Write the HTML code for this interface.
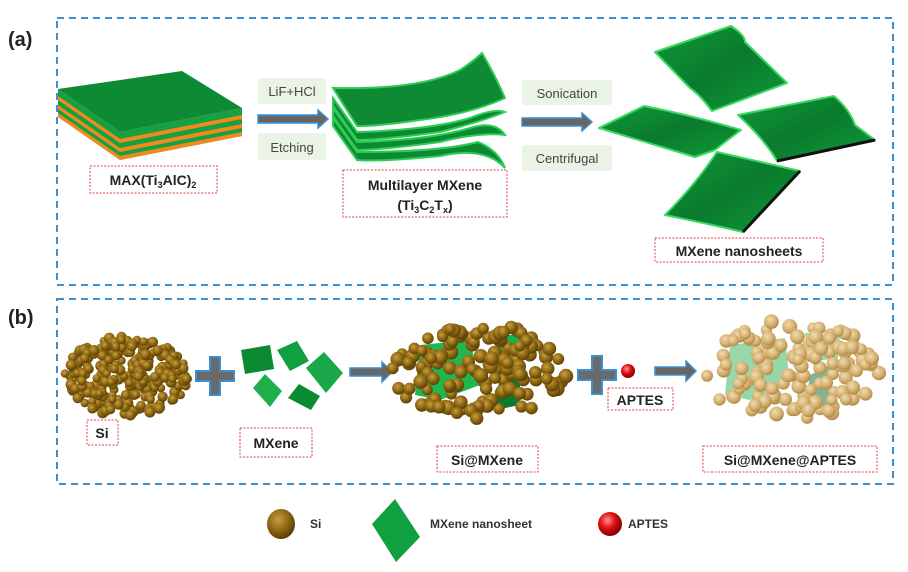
<!DOCTYPE html>
<html><head><meta charset="utf-8"><style>
html,body{margin:0;padding:0;background:#fff}
svg{display:block}
text{font-family:"Liberation Sans",sans-serif}
</style></head><body>
<svg id="s" width="908" height="572" viewBox="0 0 908 572" xmlns="http://www.w3.org/2000/svg">
<defs>
<radialGradient id="si" cx="40%" cy="35%" r="65%"><stop offset="0" stop-color="#c8a040"/><stop offset="0.6" stop-color="#8a6410"/><stop offset="1" stop-color="#5a4008"/></radialGradient>
<radialGradient id="si2" cx="40%" cy="35%" r="65%"><stop offset="0" stop-color="#f0dcae"/><stop offset="0.6" stop-color="#d6b274"/><stop offset="1" stop-color="#b08a48"/></radialGradient>
<radialGradient id="red" cx="40%" cy="35%" r="65%"><stop offset="0" stop-color="#ff9090"/><stop offset="0.5" stop-color="#dd1010"/><stop offset="1" stop-color="#800000"/></radialGradient>
<linearGradient id="sh" x1="0" y1="0" x2="1" y2="1"><stop offset="0" stop-color="#0f9a3a"/><stop offset="0.5" stop-color="#0a7a2c"/><stop offset="1" stop-color="#0f9a3a"/></linearGradient>
</defs>
<rect width="908" height="572" fill="#fff"/>
<rect x="57" y="18" width="836" height="267" fill="none" stroke="#3d8fd0" stroke-width="2" stroke-dasharray="7,5"/>
<rect x="57" y="299" width="836" height="185" fill="none" stroke="#3d8fd0" stroke-width="2" stroke-dasharray="7,5"/>
<text x="8" y="46" font-size="20" font-weight="bold" fill="#222">(a)</text>
<text x="8" y="324" font-size="20" font-weight="bold" fill="#222">(b)</text>

<g>
<polygon points="58,89 120,132 242,108 242,136 120,160 58,117" fill="#18a040"/>
<polygon points="58,96 120,139 242,115 242,119 120,143 58,100" fill="#f08a20"/>
<polygon points="58,105 120,148 242,124 242,128 120,152 58,109" fill="#f08a20"/>
<polygon points="58,113 120,156 242,132 242,136 120,160 58,117" fill="#f08a20"/>
<polygon points="58,89 182,71 242,108 120,132" fill="#0e8a34"/>
</g>
<rect x="90" y="166" width="127" height="27" fill="none" stroke="#e04040" stroke-width="1" stroke-dasharray="2,1.5"/>
<text x="153" y="185" font-size="14" font-weight="bold" text-anchor="middle" fill="#222">MAX(Ti<tspan font-size="9" dy="3">3</tspan><tspan dy="-3">AlC)</tspan><tspan font-size="9" dy="3">2</tspan></text>

<rect x="258" y="78" width="68" height="26" rx="3" fill="#eaf4e6"/>
<text x="292" y="96" font-size="13" text-anchor="middle" fill="#444">LiF+HCl</text>
<rect x="258" y="133" width="68" height="27" rx="3" fill="#eaf4e6"/>
<text x="292" y="152" font-size="13" text-anchor="middle" fill="#444">Etching</text>
<polygon points="258,115 318,115 318,110 328,119 318,128 318,123 258,123" fill="#666" stroke="#3d8fd0" stroke-width="1.5"/>

<g stroke="#2ecc55" stroke-width="2">
<path d="M333,118 L357,152 Q440,152 478,142 Q498,150 505,168 Q485,146 440,156 Q380,162 357,160 L333,126Z" fill="#0c8a32"/>
<path d="M333,108 L357,142 Q430,140 470,128 Q495,120 505,135 Q480,132 440,142 Q380,150 357,150 L333,116Z" fill="#0c8a32"/>
<path d="M333,98 L357,132 Q430,130 470,118 Q495,108 505,112 Q480,122 440,132 Q380,140 357,140 L333,106Z" fill="#0c8a32"/>
<path d="M333,88 Q420,90 460,70 Q475,60 482,53 Q495,75 505,98 Q470,114 420,120 Q380,126 357,126 Z" fill="#0e8a34"/>
</g>
<rect x="343" y="170" width="164" height="47" fill="none" stroke="#e04040" stroke-width="1" stroke-dasharray="2,1.5"/>
<text x="425" y="190" font-size="14" font-weight="bold" text-anchor="middle" fill="#222">Multilayer MXene</text>
<text x="425" y="210" font-size="14" font-weight="bold" text-anchor="middle" fill="#222">(Ti<tspan font-size="9" dy="3">3</tspan><tspan dy="-3">C</tspan><tspan font-size="9" dy="3">2</tspan><tspan dy="-3">T</tspan><tspan font-size="9" dy="3">x</tspan><tspan dy="-3">)</tspan></text>

<rect x="522" y="80" width="90" height="25" rx="3" fill="#eaf4e6"/>
<text x="567" y="98" font-size="13" text-anchor="middle" fill="#444">Sonication</text>
<rect x="522" y="145" width="90" height="26" rx="3" fill="#eaf4e6"/>
<text x="567" y="163" font-size="13" text-anchor="middle" fill="#444">Centrifugal</text>
<polygon points="522,118 582,118 582,113 592,122 582,131 582,126 522,126" fill="#666" stroke="#3d8fd0" stroke-width="1.5"/>

<g stroke="#3ad860" stroke-width="2" stroke-linejoin="round">
<path d="M655,52 L731,26 Q745,35 745,42 L787,83 L712,111 Q700,95 690,88 Z" fill="url(#sh)"/>
<path d="M599,128 L644,106 Q690,115 741,130 Q725,142 715,150 L695,157 Q645,142 599,128Z" fill="url(#sh)"/>
<path d="M738,115 L834,96 Q850,110 855,125 L875,140 L777,161 Q765,140 738,115Z" fill="url(#sh)"/>
<path d="M717,152 L800,171 L743,232 Q700,222 665,215 Q695,185 717,152Z" fill="url(#sh)"/>
</g>
<path d="M777,161 L875,140" stroke="#111" stroke-width="3"/>
<path d="M800,171 L743,232" stroke="#111" stroke-width="3"/>
<rect x="655" y="238" width="168" height="24" fill="none" stroke="#e04040" stroke-width="1" stroke-dasharray="2,1.5"/>
<text x="739" y="256" font-size="14" font-weight="bold" text-anchor="middle" fill="#222">MXene nanosheets</text>

<g id="si1"></g>
<rect x="87" y="420" width="31" height="25" fill="none" stroke="#e04040" stroke-width="1" stroke-dasharray="2,1.5"/>
<text x="102" y="438" font-size="14" font-weight="bold" text-anchor="middle" fill="#222">Si</text>

<path d="M210,357 h10 v14 h14 v10 h-14 v14 h-10 v-14 h-14 v-10 h14z" fill="#6a6a6a" stroke="#3d8fd0" stroke-width="2"/>

<g>
<polygon points="241,350 270,345 274,369 245,374" fill="#0c8a32"/>
<polygon points="277,350 297,341 309,361 290,371" fill="#10a040"/>
<polygon points="306,368 324,352 343,373 326,393" fill="#18a848"/>
<polygon points="253,388 265,374 282,391 270,407" fill="#20b04a"/>
<polygon points="288,398 299,384 320,396 311,410" fill="#0c8a32"/>
</g>
<rect x="240" y="428" width="72" height="29" fill="none" stroke="#e04040" stroke-width="1" stroke-dasharray="2,1.5"/>
<text x="276" y="448" font-size="14" font-weight="bold" text-anchor="middle" fill="#222">MXene</text>

<polygon points="350,368 382,368 382,362 392,372 382,382 382,376 350,376" fill="#666" stroke="#3d8fd0" stroke-width="1.5"/>

<g>
<polygon points="420,345 470,340 480,385 440,400 415,395" fill="#20b84e"/>
<polygon points="495,335 525,335 525,360 500,365" fill="#18b04a"/>
<polygon points="500,375 520,365 520,405 495,410" fill="#0c7a2c"/>
</g>
<g id="si3"></g>
<rect x="437" y="446" width="101" height="26" fill="none" stroke="#e04040" stroke-width="1" stroke-dasharray="2,1.5"/>
<text x="487" y="465" font-size="14" font-weight="bold" text-anchor="middle" fill="#222">Si@MXene</text>

<path d="M592,356 h10 v14 h14 v10 h-14 v14 h-10 v-14 h-14 v-10 h14z" fill="#6a6a6a" stroke="#3d8fd0" stroke-width="2"/>
<circle cx="628" cy="371" r="7" fill="url(#red)"/>
<rect x="608" y="388" width="65" height="22" fill="none" stroke="#e04040" stroke-width="1" stroke-dasharray="2,1.5"/>
<text x="640" y="405" font-size="14" font-weight="bold" text-anchor="middle" fill="#222">APTES</text>
<polygon points="655,367 686,367 686,361 696,371 686,381 686,375 655,375" fill="#666" stroke="#3d8fd0" stroke-width="1.5"/>

<g opacity="0.55">
<polygon points="730,345 785,338 790,385 750,400 725,395" fill="#40b860"/>
<polygon points="805,333 840,333 838,358 808,362" fill="#40b860"/>
<polygon points="810,375 830,365 830,405 805,410" fill="#207a3c"/>
</g>
<g id="si4"></g>
<rect x="703" y="446" width="174" height="26" fill="none" stroke="#e04040" stroke-width="1" stroke-dasharray="2,1.5"/>
<text x="790" y="465" font-size="14" font-weight="bold" text-anchor="middle" fill="#222">Si@MXene@APTES</text>

<ellipse cx="281" cy="524" rx="14" ry="15" fill="url(#si)"/>
<text x="310" y="528" font-size="12" font-weight="bold" fill="#333">Si</text>
<polygon points="395,499 420,537 396,562 372,524" fill="#10a040"/>
<text x="430" y="528" font-size="12" font-weight="bold" fill="#333">MXene nanosheet</text>
<circle cx="610" cy="524" r="12" fill="url(#red)"/>
<text x="628" y="528" font-size="12" font-weight="bold" fill="#333">APTES</text>
</svg>
<script>
(function(){
var seed=7;function r(){seed=(seed*16807)%2147483647;return (seed-1)/2147483646;}
var NS="http://www.w3.org/2000/svg";
function fill(id,cx,cy,rx,ry,n,rad,grad){
 var g=document.getElementById(id);
 for(var i=0;i<n;i++){
  var a=r()*Math.PI*2,d=Math.sqrt(r());
  var x=cx+Math.cos(a)*d*rx,y=cy+Math.sin(a)*d*ry;
  var c=document.createElementNS(NS,"circle");
  c.setAttribute("cx",x.toFixed(1));c.setAttribute("cy",y.toFixed(1));
  c.setAttribute("r",(rad*(0.85+r()*0.3)).toFixed(1));c.setAttribute("fill",grad);
  g.appendChild(c);
 }
}
fill("si1",126,376,62,40,300,4.8,"url(#si)");
fill("si3",480,372,88,48,150,6.5,"url(#si)");
fill("si4",790,370,90,50,140,6.5,"url(#si2)");
})();
</script>
</body></html>
